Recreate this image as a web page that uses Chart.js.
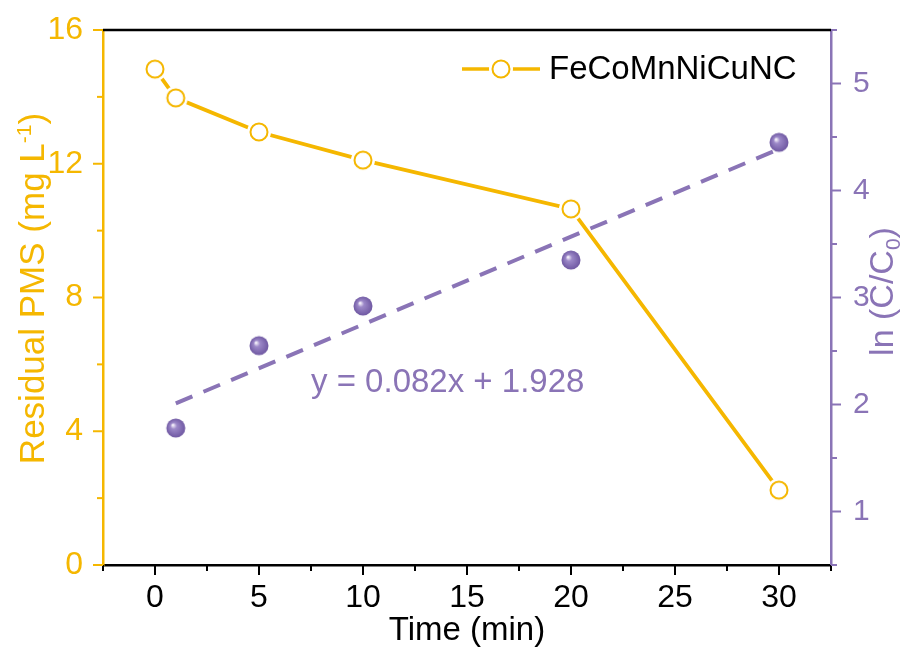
<!DOCTYPE html>
<html>
<head>
<meta charset="utf-8">
<script src="https://cdn.jsdelivr.net/npm/chart.js@4.4.1/dist/chart.umd.min.js"></script>
<style>
  html, body { margin: 0; padding: 0; background: #fff; }
  #wrap { width: 917px; height: 648px; }
</style>
</head>
<body>
<div id="wrap"><canvas id="grafico"></canvas></div>
<script>
// dados
const time = [0, 1, 5, 10, 20, 30];
const pms = [14.83, 13.97, 12.95, 12.11, 10.65, 2.24];
const timeLn = [1, 5, 10, 20, 30];
const lnC = [1.78, 2.55, 2.92, 3.35, 4.45];
const fitX = [1, 30];
const fitY = [2.01, 4.388];
const xTicks = [0, 5, 10, 15, 20, 25, 30];
const pmsTicks = [0, 4, 8, 12, 16];
const lnTicks = [1, 2, 3, 4, 5];
const seriesName = 'FeCoMnNiCuNC';
const fitLabel = 'y = 0.082x + 1.928';

const YEL = '#f5b700';
const PUR = '#8a74b6';
const FONT = "'Liberation Sans', Arial, sans-serif";

// marcador: círculo aberto com folga branca
function ringPoint() {
  const c = document.createElement('canvas');
  c.width = c.height = 26;
  const g = c.getContext('2d');
  g.fillStyle = '#fff';
  g.beginPath(); g.arc(13, 13, 12, 0, Math.PI * 2); g.fill();
  g.strokeStyle = YEL; g.lineWidth = 2;
  g.beginPath(); g.arc(13, 13, 8.5, 0, Math.PI * 2); g.stroke();
  return c;
}

// marcador: esfera roxa
function ballPoint() {
  const c = document.createElement('canvas');
  c.width = c.height = 22;
  const g = c.getContext('2d');
  const grad = g.createRadialGradient(8, 8, 0.5, 11, 11, 9.5);
  grad.addColorStop(0, '#f4f0fa');
  grad.addColorStop(0.3, '#9c88c8');
  grad.addColorStop(1, '#6f58a2');
  g.fillStyle = grad;
  g.beginPath(); g.arc(11, 11, 9.5, 0, Math.PI * 2); g.fill();
  return c;
}
const ring = ringPoint();
const ball = ballPoint();

function setTicks(arr) {
  return s => { s.ticks = arr.map(v => ({ value: v })); };
}

function minors(arr, min, max) {
  const step = arr[1] - arr[0];
  const out = [];
  for (let v = arr[0] - step / 2; v <= max + 1e-9; v += step) {
    if (v >= min - 1e-9) out.push(v);
  }
  return out;
}

// texto com sub/sobrescrito, girado
function rotTitle(ctx, cx, cy, parts, color) {
  ctx.save();
  ctx.translate(cx, cy);
  ctx.rotate(-Math.PI / 2);
  ctx.fillStyle = color;
  ctx.textAlign = 'left';
  ctx.textBaseline = 'alphabetic';
  let total = 0;
  parts.forEach(p => { ctx.font = p.size + 'px ' + FONT; p.w = ctx.measureText(p.t).width; total += p.w; });
  let sx = -total / 2;
  parts.forEach(p => { ctx.font = p.size + 'px ' + FONT; ctx.fillText(p.t, sx, p.dy); sx += p.w; });
  ctx.restore();
}

// eixos, títulos, legenda e equação
const decor = {
  id: 'decor',
  afterDraw(chart) {
    const { ctx, chartArea: a, scales } = chart;
    const x = scales.x, y = scales.y, y2 = scales.y2;
    ctx.save();
    ctx.lineCap = 'butt';

    // borda superior
    ctx.strokeStyle = '#000'; ctx.lineWidth = 2.5;
    ctx.beginPath(); ctx.moveTo(a.left, a.top); ctx.lineTo(a.right, a.top); ctx.stroke();

    // marcas dos eixos
    ctx.lineWidth = 2;
    const tick = (x1, y1, x2, y2c) => { ctx.beginPath(); ctx.moveTo(x1, y1); ctx.lineTo(x2, y2c); ctx.stroke(); };
    xTicks.forEach(v => { const p = x.getPixelForValue(v); tick(p, a.bottom, p, a.bottom + 10); });
    minors(xTicks, x.min, x.max).forEach(v => { const p = x.getPixelForValue(v); tick(p, a.bottom, p, a.bottom + 6); });

    ctx.strokeStyle = YEL;
    pmsTicks.forEach(v => { const p = y.getPixelForValue(v); tick(a.left, p, a.left - 10, p); });
    minors(pmsTicks, y.min, y.max).forEach(v => { const p = y.getPixelForValue(v); tick(a.left, p, a.left - 6, p); });

    ctx.strokeStyle = PUR;
    lnTicks.forEach(v => { const p = y2.getPixelForValue(v); tick(a.right, p, a.right + 10, p); });
    minors(lnTicks, y2.min, y2.max).forEach(v => { const p = y2.getPixelForValue(v); tick(a.right, p, a.right + 6, p); });

    // título eixo x
    ctx.fillStyle = '#000';
    ctx.font = '33px ' + FONT;
    ctx.textAlign = 'center'; ctx.textBaseline = 'alphabetic';
    ctx.fillText('Time (min)', (a.left + a.right) / 2, 640);

    // títulos eixos y
    const cy = (a.top + a.bottom) / 2;
    rotTitle(ctx, 44, cy - 9, [
      { t: 'Residual PMS (mg L', size: 35, dy: 0 },
      { t: '-1', size: 21, dy: -13 },
      { t: ')', size: 35, dy: 0 }
    ], YEL);
    rotTitle(ctx, 893, cy - 6, [
      { t: 'ln (C/C', size: 34, dy: 0 },
      { t: '0', size: 21, dy: 7 },
      { t: ')', size: 34, dy: 0 }
    ], PUR);

    // legenda
    ctx.strokeStyle = YEL; ctx.lineWidth = 3.5;
    tick(462, 69, 540, 69);
    ctx.drawImage(ring, 501 - 13, 69 - 13);
    ctx.fillStyle = '#000';
    ctx.font = '33px ' + FONT;
    ctx.textAlign = 'left'; ctx.textBaseline = 'middle';
    ctx.fillText(seriesName, 549, 70);

    // equação do ajuste
    ctx.fillStyle = PUR;
    ctx.font = '33px ' + FONT;
    ctx.fillText(fitLabel, 311, 383);
    ctx.restore();
  }
};

window.addEventListener('DOMContentLoaded', () => {
  const ctx = document.getElementById('grafico').getContext('2d');
  new Chart(ctx, {
    type: 'line',
    data: {
      datasets: [
        {
          label: seriesName,
          data: time.map((t, i) => ({ x: t, y: pms[i] })),
          yAxisID: 'y',
          borderColor: YEL,
          borderWidth: 3.8,
          pointStyle: ring,
          pointRadius: 9,
          tension: 0,
          order: 1
        },
        {
          label: 'fit',
          data: fitX.map((t, i) => ({ x: t, y: fitY[i] })),
          yAxisID: 'y2',
          borderColor: PUR,
          borderWidth: 4,
          borderDash: [18, 12],
          pointRadius: 0,
          order: 3
        },
        {
          label: 'ln',
          data: timeLn.map((t, i) => ({ x: t, y: lnC[i] })),
          yAxisID: 'y2',
          showLine: false,
          pointStyle: ball,
          pointRadius: 9,
          order: 2
        }
      ]
    },
    options: {
      responsive: true,
      maintainAspectRatio: false,
      animation: false,
      layout: { padding: { top: 30, left: 0, right: 0, bottom: 0 } },
      plugins: {
        legend: { display: false },
        tooltip: { enabled: false }
      },
      scales: {
        x: {
          type: 'linear',
          min: -2.5, max: 32.5,
          grid: { display: false },
          border: { color: '#000', width: 2.5 },
          ticks: { color: '#000', font: { size: 32, family: FONT }, padding: 6, maxRotation: 0 },
          afterBuildTicks: setTicks(xTicks),
          afterFit: s => { s.height = 83; s.paddingLeft = 0; s.paddingRight = 0; }
        },
        y: {
          position: 'left',
          min: 0, max: 16,
          grid: { display: false },
          border: { color: YEL, width: 2.5 },
          ticks: { color: YEL, font: { size: 32, family: FONT }, padding: 12 },
          afterBuildTicks: setTicks(pmsTicks),
          afterFit: s => { s.width = 103; s.paddingTop = 0; s.paddingBottom = 0; }
        },
        y2: {
          position: 'right',
          min: 0.5, max: 5.5,
          grid: { display: false },
          border: { color: PUR, width: 2.5 },
          ticks: { color: PUR, font: { size: 30, family: FONT }, padding: 14 },
          afterBuildTicks: setTicks(lnTicks),
          afterFit: s => { s.width = 86; s.paddingTop = 0; s.paddingBottom = 0; }
        }
      }
    },
    plugins: [decor]
  });
});
</script>
</body>
</html>
